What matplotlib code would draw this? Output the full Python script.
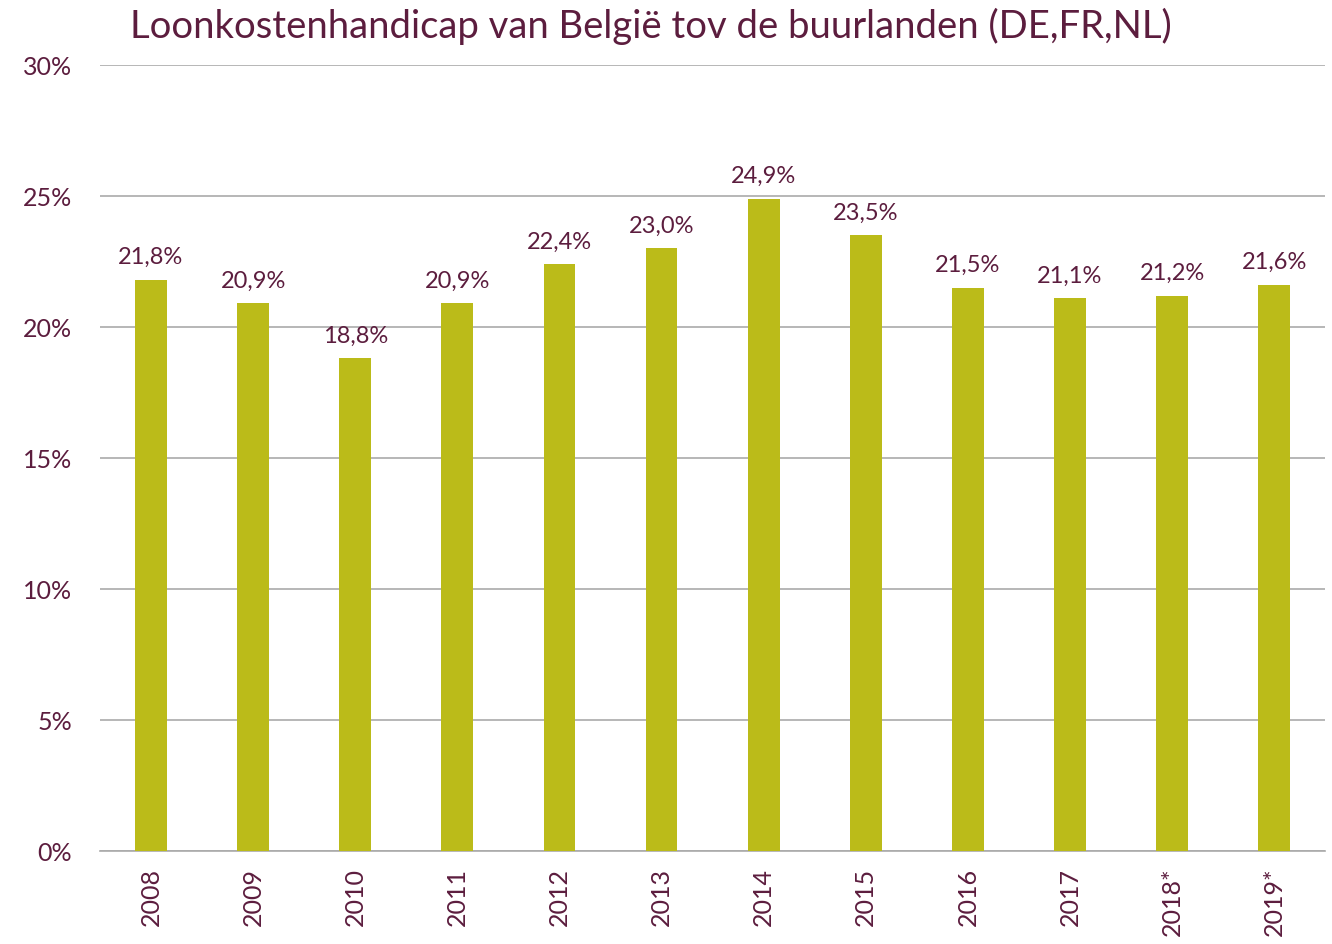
import matplotlib.pyplot as plt
import matplotlib
from matplotlib.ticker import FuncFormatter

matplotlib.rcParams['font.family'] = ['Lato', 'DejaVu Sans']

jaren = ['2008', '2009', '2010', '2011', '2012', '2013', '2014', '2015',
         '2016', '2017', '2018*', '2019*']
handicap = [21.8, 20.9, 18.8, 20.9, 22.4, 23.0, 24.9, 23.5, 21.5, 21.1, 21.2, 21.6]

kleur_tekst = '#5C1D3E'
kleur_balk = '#BBBB19'

fig = plt.figure(figsize=(13.32, 9.44), dpi=100)
ax = fig.add_axes([0.075, 0.0985, 0.92, 0.8326])

x = range(len(jaren))
ax.bar(x, handicap, width=0.31, color=kleur_balk, zorder=3)

for xi, v in zip(x, handicap):
    ax.text(xi, v + 0.45, f"{v:.1f}%".replace('.', ','), ha='center', va='bottom',
            fontsize=17, color=kleur_tekst)

ax.set_xlim(-0.5, len(jaren) - 0.5)
ax.set_ylim(0, 30)
ax.set_yticks(range(0, 31, 5))
ax.yaxis.set_major_formatter(FuncFormatter(lambda v, p: f"{int(v)}%"))
ax.set_xticks(list(x))
ax.set_xticklabels(jaren, rotation=90, fontsize=18, color=kleur_tekst)
ax.tick_params(axis='y', labelsize=18, labelcolor=kleur_tekst, length=0, pad=20)
ax.tick_params(axis='x', length=0, pad=12)

ax.grid(axis='y', color='#AAAAAA', linewidth=1.2, zorder=0)
for s in ['top', 'right', 'left']:
    ax.spines[s].set_visible(False)
ax.spines['bottom'].set_color('#AAAAAA')
ax.spines['bottom'].set_linewidth(1.2)

fig.text(0.0975, 0.972, "Loonkostenhandicap van België tov de buurlanden (DE,FR,NL)",
         fontsize=27.5, color=kleur_tekst, ha='left', va='center')

plt.savefig('out.png', dpi=100)
plt.close()
